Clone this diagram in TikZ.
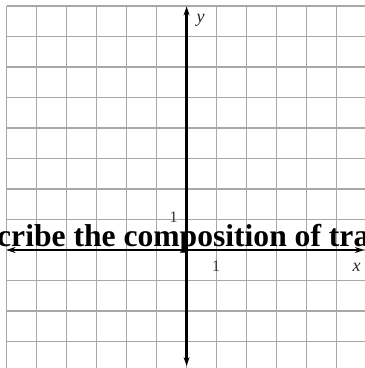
\documentclass[tikz,border=0pt]{standalone}
\usepackage{fontspec}
\setmainfont{Liberation Serif}
\usetikzlibrary{arrows.meta}
\definecolor{gridgray}{RGB}{168,168,168}
\tikzset{
  gridline/.style={draw=gridgray, line width=1.3pt},
  axisline/.style={draw=black, line width=2.2pt, {Stealth[length=9pt,width=6pt]}-{Stealth[length=9pt,width=6pt]}},
  axislabel/.style={font=\fontsize{18}{18}\selectfont\itshape, text=black!85, inner sep=0pt},
  ticklabel/.style={font=\fontsize{16}{16}\selectfont, text=black!80, inner sep=0pt},
  overtext/.style={font=\fontsize{31.6}{32}\selectfont\bfseries, text=black, inner sep=0pt, anchor=base west}
}
\begin{document}
\begin{tikzpicture}[x=1pt,y=1pt]
\useasboundingbox (0,0) rectangle (365,368);
\clip (0,0) rectangle (365,368);
% grid
\foreach \k in {0,...,11}{
  \draw[gridline] (6.7+30*\k,362) -- (6.7+30*\k,0);
  \draw[gridline] (6.7,362-30.5*\k) -- (365,362-30.5*\k);
}
% axes
\coordinate (xl) at (6.5,118);
\coordinate (xr) at (364,118);
\coordinate (yb) at (186.6,2);
\coordinate (yt) at (186.6,361.5);
\draw[axisline] (xl) -- (xr);
\draw[axisline] (yb) -- (yt);
% labels
\node[axislabel] (ylab) at (200.5,348) {y};
\node[axislabel] (xlab) at (356.5,101) {x};
\node[ticklabel] (onex) at (216,101.5) {1};
\node[ticklabel] (oney) at (173.5,151) {1};
% overlapping heading text
\node[overtext] (head) at (-3,121.3) {cribe the composition of tra};
\end{tikzpicture}
\end{document}
